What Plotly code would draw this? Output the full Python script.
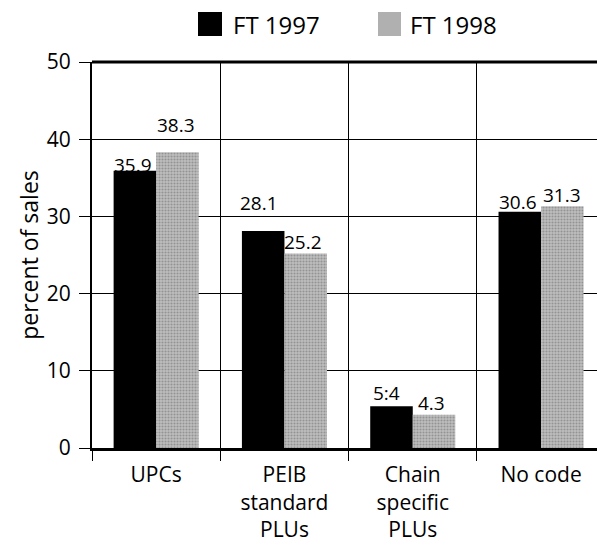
import plotly.graph_objects as go

categories = ["UPCs", "PEIB<br>standard<br>PLUs", "Chain<br>specific<br>PLUs", "No code"]
series_names = ["FT 1997", "FT 1998"]
values_1997 = [35.9, 28.1, 5.4, 30.6]
values_1998 = [38.3, 25.2, 4.3, 31.3]
labels_1997 = ["35.9", "28.1", "5:4", "30.6"]
labels_1998 = ["38.3", "25.2", "4.3", "31.3"]
y_ticks = [0, 10, 20, 30, 40, 50]

# label placement style (pixel nudges)
shift_1997 = [(-2, 6), (-4, 28), (-5, 13), (-2, 10)]
shift_1998 = [(-1, 27), (-3, 11.5), (-3, 12), (0, 11)]

FONT = "Open Sans"
BLACK = "#000000"
GRAY_BG = "#bebebe"
GRAY_FG = "#686868"
xpos = list(range(len(categories)))

fig = go.Figure()
fig.add_trace(go.Bar(
    x=xpos, y=values_1997, name=series_names[0], showlegend=False,
    marker=dict(color=BLACK, line=dict(width=0)),
))
fig.add_trace(go.Bar(
    x=xpos, y=values_1998, name=series_names[1], showlegend=False,
    marker=dict(color=GRAY_BG, line=dict(width=0),
                pattern=dict(shape=".", fgcolor=GRAY_FG, bgcolor=GRAY_BG,
                             size=3, solidity=0.4)),
))

bar_off = (1 - 0.337) / 4
annotations = []
for i in xpos:
    for vals, labs, shifts, sign in ((values_1997, labels_1997, shift_1997, -1),
                                     (values_1998, labels_1998, shift_1998, 1)):
        dx, dy = shifts[i]
        annotations.append(dict(
            x=i + sign * bar_off, y=vals[i], text=labs[i], showarrow=False,
            xanchor="center", yanchor="middle", xshift=dx, yshift=dy,
            font=dict(family=FONT, size=19, color=BLACK),
        ))

# manual legend (large square swatches as in the reference)
legend_items = [(series_names[0], BLACK, 0.2099, 0.2574, 0.2752),
                (series_names[1], "#b0b0b0", 0.5663, 0.6119, 0.6257)]
shapes = [dict(type="line", xref="paper", yref="paper", x0=0, x1=1, y0=1, y1=1,
               line=dict(color=BLACK, width=3))]
for name, col, x0, x1, xt in legend_items:
    shapes.append(dict(type="rect", xref="paper", yref="paper", x0=x0, x1=x1,
                       y0=1.0674, y1=1.1295, fillcolor=col, line=dict(width=0)))
    annotations.append(dict(xref="paper", yref="paper", x=xt, y=1.0984, text=name,
                            showarrow=False, xanchor="left", yanchor="middle",
                            font=dict(family=FONT, size=24, color=BLACK)))

fig.update_layout(
    width=597, height=545,
    margin=dict(l=92, r=0, t=62, b=97),
    paper_bgcolor="white", plot_bgcolor="white",
    barmode="group", bargap=0.337, bargroupgap=0,
    font=dict(family=FONT, size=19, color=BLACK),
    showlegend=False,
    annotations=annotations,
    shapes=shapes,
)

fig.update_xaxes(
    range=[-0.5, 3.436], automargin=False,
    tickmode="array", tickvals=xpos, ticktext=categories,
    ticks="", showgrid=False, zeroline=False,
    showline=True, linecolor=BLACK, linewidth=3,
    tickfont=dict(family=FONT, size=21, color=BLACK),
    ticklabelstandoff=6,
    minor=dict(tick0=0.5, dtick=1, ticks="outside", ticklen=10, tickcolor=BLACK,
               tickwidth=1, showgrid=True, gridcolor=BLACK, gridwidth=1),
)
fig.update_yaxes(
    range=[0, 50], automargin=False, tickmode="array", tickvals=y_ticks,
    ticks="outside", ticklen=11, tickcolor=BLACK, tickwidth=1,
    showgrid=True, gridcolor=BLACK, gridwidth=1, zeroline=False,
    showline=True, linecolor=BLACK, linewidth=2,
    tickfont=dict(family=FONT, size=21, color=BLACK),
    ticklabelstandoff=4,
    title=dict(text="percent of sales", font=dict(family=FONT, size=23, color=BLACK),
               standoff=2),
)

fig.write_html("out.html", config={"displayModeBar": False})

with open("out.html", "r", encoding="utf-8") as f:
    html = f.read()
html = html.replace("<body>", '<body style="margin:0;padding:0;">', 1)
with open("out.html", "w", encoding="utf-8") as f:
    f.write(html)
